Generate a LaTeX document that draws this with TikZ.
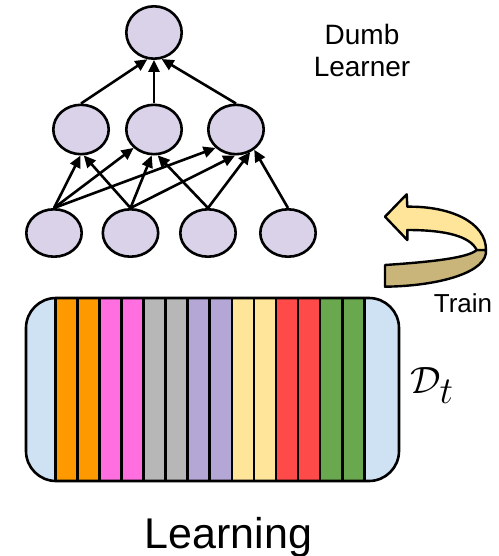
\RequirePackage{fix-cm}
\documentclass[tikz,border=0pt]{standalone}
\usepackage{fontspec}
\setmainfont{Liberation Sans}
\usetikzlibrary{shapes.geometric,arrows.meta}

\definecolor{neuronfill}{HTML}{D9D2E9}
\definecolor{setblue}{HTML}{CFE2F3}
\definecolor{cOrange}{HTML}{FF9900}
\definecolor{cPink}{HTML}{FF6FDF}
\definecolor{cGray}{HTML}{B7B7B7}
\definecolor{cLav}{HTML}{B4A7D6}
\definecolor{cYellow}{HTML}{FFE599}
\definecolor{cRed}{HTML}{FF4A4A}
\definecolor{cGreen}{HTML}{6AA84F}
\definecolor{trainLight}{HTML}{FFE599}
\definecolor{trainDark}{HTML}{C9B57A}

\tikzset{
  neuron/.style={ellipse, draw=black, fill=neuronfill, line width=2.6pt,
    inner sep=0pt, minimum width=55.4pt, minimum height=49.4pt},
  link/.style={line width=2.6pt, -{Triangle[length=12pt,width=11pt]}},
  stripe/.style={draw=black, line width=2.6pt},
}

\begin{document}
\begin{tikzpicture}[x=1pt,y=-1pt]
\useasboundingbox (0,0) rectangle (498,556);

% ---- network ----
\node[neuron, minimum height=52.4pt] (t) at (154,32.5) {};
\node[neuron] (m1) at (81,129.5) {};
\node[neuron] (m2) at (154,129.5) {};
\node[neuron] (m3) at (236,129.5) {};
\node[neuron, minimum height=47.4pt] (b1) at (54,233) {};
\node[neuron, minimum height=47.4pt] (b2) at (130.5,233) {};
\node[neuron, minimum height=47.4pt] (b3) at (208,233) {};
\node[neuron, minimum height=47.4pt] (b4) at (288,233) {};

\draw[link] (m1.north) -- (t.256);
\draw[link] (m2.north) -- (t.270);
\draw[link] (m3.north) -- (t.286);

\draw[link] (b1.north) -- (m1.269);
\draw[link] (b1.north) -- (m2.222);
\draw[link] (b1.north) -- (m3.222);
\draw[link] (b2.north) -- (m1.276);
\draw[link] (b2.north) -- (m2.265);
\draw[link] (b2.north) -- (m3.268);
\draw[link] (b3.north) -- (m2.278);
\draw[link] (b3.north) -- (m3.302);
\draw[link] (b4.north) -- (m3.312);

\node[font=\fontsize{28}{32}\selectfont, align=center] (dumb) at (362,50.8) {Dumb\\Learner};

% ---- curved training arrow ----
\fill[trainDark, draw=black, line width=2.4pt, line join=round]
  (385,265) .. controls (430,262) and (468,258) .. (476.7,250)
  -- (486,250) .. controls (488,272) and (440,286) .. (385,286.7) -- cycle;
\fill[trainLight, draw=black, line width=2.4pt, line join=round]
  (385,216.7) -- (406.7,194.3) -- (407.3,206.7)
  .. controls (450,206) and (486,222) .. (486,250)
  -- (476.7,250) .. controls (470,236) and (445,230) .. (407.3,230)
  -- (407.3,240) -- cycle;

\node[font=\fontsize{26}{30}\selectfont, anchor=base] (train) at (463,312) {Train};

% ---- data set D_t ----
\fill[setblue, rounded corners=30pt] (26,298) rectangle (399,481);
\foreach \c [count=\i from 0] in {cOrange,cOrange,cPink,cPink,cGray,cGray,cLav,cLav,cYellow,cYellow,cRed,cRed,cGreen,cGreen}{
  \filldraw[stripe, fill=\c] ({55.3+22.07*\i},298) rectangle ({55.3+22.07*(\i+1)},481);
}
\draw[line width=2.6pt, rounded corners=30pt] (26,298) rectangle (399,481);

\node[font=\fontsize{38}{44}\selectfont, anchor=base west, inner sep=0pt] (dt) at (410,393) {$\mathcal{D}_{\textstyle t}$};

\node[font=\fontsize{43}{50}\selectfont, anchor=base] (learning) at (228.5,548) {Learning};
\end{tikzpicture}
\end{document}
